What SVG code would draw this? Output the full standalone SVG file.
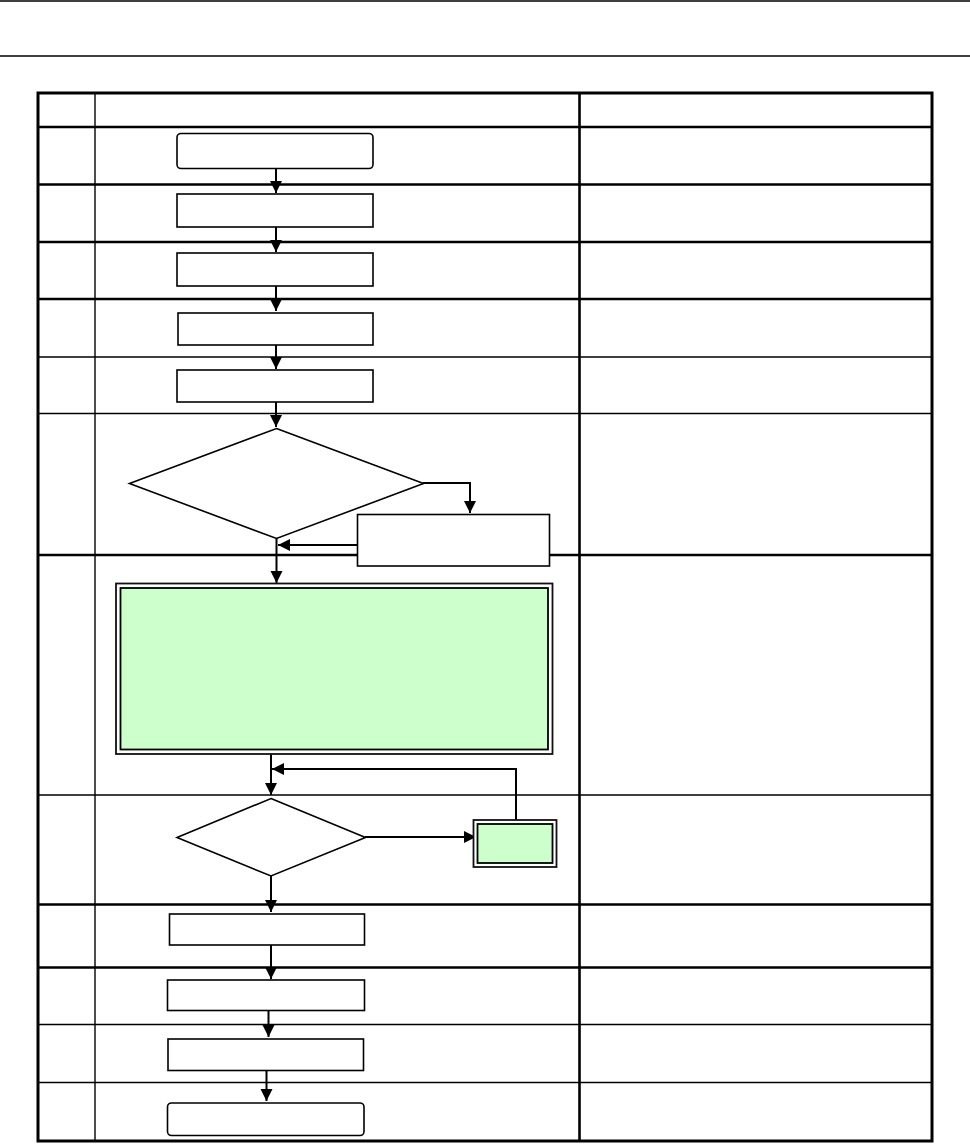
<svg xmlns="http://www.w3.org/2000/svg" width="970" height="1144" viewBox="0 0 970 1144">
<style>
.box{fill:#fff;stroke:#000;stroke-width:1.6}
.gin{fill:#ccffcc;stroke:#000;stroke-width:1.8}
.gout{fill:#fff;stroke:#111;stroke-width:1.8}
.con{fill:none;stroke:#000;stroke-width:2}
.thin{stroke:#000;stroke-width:1.4}
.thick{stroke:#000;stroke-width:2.6}
</style>
<defs>
<marker id="ah" markerUnits="userSpaceOnUse" markerWidth="13" markerHeight="13" viewBox="0 0 13 13" refX="12" refY="6.5" orient="auto">
<path d="M0,0.5 L12,6.5 L0,12.5 Z" fill="#000"/>
</marker>
</defs>
<rect width="970" height="1144" fill="#fff"/>
<g id="page">
<line x1="0" y1="1" x2="970" y2="1" class="thin"/>
<line x1="0" y1="56" x2="970" y2="56" class="thin"/>
</g>
<g id="table">
<rect x="38" y="93" width="894" height="1048" fill="none" stroke="#000" stroke-width="3"/>
<line x1="95" y1="93" x2="95" y2="1141" class="thin"/>
<line x1="579.5" y1="93" x2="579.5" y2="1141" class="thick"/>
<line x1="38" y1="127" x2="932" y2="127" class="thick"/>
<line x1="38" y1="184.5" x2="932" y2="184.5" class="thick"/>
<line x1="38" y1="242" x2="932" y2="242" class="thick"/>
<line x1="38" y1="299" x2="932" y2="299" class="thick"/>
<line x1="38" y1="357" x2="932" y2="357" class="thin"/>
<line x1="38" y1="413.5" x2="932" y2="413.5" class="thin"/>
<line x1="38" y1="555" x2="932" y2="555" class="thick"/>
<line x1="38" y1="795" x2="932" y2="795" class="thin"/>
<line x1="38" y1="904.5" x2="932" y2="904.5" class="thick"/>
<line x1="38" y1="967.5" x2="932" y2="967.5" class="thick"/>
<line x1="38" y1="1024.5" x2="932" y2="1024.5" class="thin"/>
<line x1="38" y1="1082.5" x2="932" y2="1082.5" class="thin"/>
</g>
<g id="connectors">
<line x1="276" y1="169" x2="276" y2="193" class="con" marker-end="url(#ah)"/>
<line x1="276" y1="227" x2="276" y2="252" class="con" marker-end="url(#ah)"/>
<line x1="276" y1="286" x2="276" y2="311" class="con" marker-end="url(#ah)"/>
<line x1="276" y1="345" x2="276" y2="369" class="con" marker-end="url(#ah)"/>
<line x1="276" y1="402" x2="276" y2="427" class="con" marker-end="url(#ah)"/>
<polyline points="423,483 470,483 470,513" class="con" marker-end="url(#ah)"/>
<line x1="357" y1="545" x2="278" y2="545" class="con" marker-end="url(#ah)"/>
<line x1="276.5" y1="538" x2="276.5" y2="583" class="con" marker-end="url(#ah)"/>
<line x1="271" y1="754" x2="271" y2="795" class="con" marker-end="url(#ah)"/>
<polyline points="516,820 516,769 272,769" class="con" marker-end="url(#ah)"/>
<line x1="365" y1="837" x2="476" y2="837" class="con" marker-end="url(#ah)"/>
<line x1="271" y1="876" x2="271" y2="912" class="con" marker-end="url(#ah)"/>
<line x1="271" y1="945" x2="271" y2="979" class="con" marker-end="url(#ah)"/>
<line x1="268.5" y1="1010" x2="268.5" y2="1037" class="con" marker-end="url(#ah)"/>
<line x1="266.5" y1="1070" x2="266.5" y2="1101" class="con" marker-end="url(#ah)"/>
</g>
<g id="n1"><rect x="177" y="133.5" width="196" height="35" rx="4" class="box"/></g>
<g id="n2"><rect x="177" y="194" width="196" height="33" class="box"/></g>
<g id="n3"><rect x="177" y="253" width="196" height="33" class="box"/></g>
<g id="n4"><rect x="178" y="313" width="195" height="32" class="box"/></g>
<g id="n5"><rect x="177" y="370" width="196" height="32" class="box"/></g>
<g id="d1"><polygon points="276.5,428.5 423.5,483.5 276.5,538.5 129.5,483.5" class="box"/></g>
<g id="n6"><rect x="357.5" y="514.5" width="192" height="51.5" class="box"/></g>
<g id="g1">
<rect x="116" y="583.5" width="436.5" height="170.5" class="gout"/>
<rect x="120.5" y="588" width="427.5" height="161.5" class="gin"/>
</g>
<g id="d2"><polygon points="271,798.5 365.5,837.5 271,876 177,837.5" class="box"/></g>
<g id="g2">
<rect x="473.5" y="820" width="83" height="47" class="gout" stroke-width="2.2"/>
<rect x="477.5" y="824" width="75" height="39" class="gin" stroke-width="2"/>
</g>
<g id="n7"><rect x="169.5" y="914" width="195" height="31" class="box"/></g>
<g id="n8"><rect x="167.5" y="980" width="197" height="30.5" class="box"/></g>
<g id="n9"><rect x="168" y="1039" width="195.5" height="31.5" class="box"/></g>
<g id="n10"><rect x="167.5" y="1103" width="196.5" height="32.5" rx="4" class="box"/></g>
</svg>
